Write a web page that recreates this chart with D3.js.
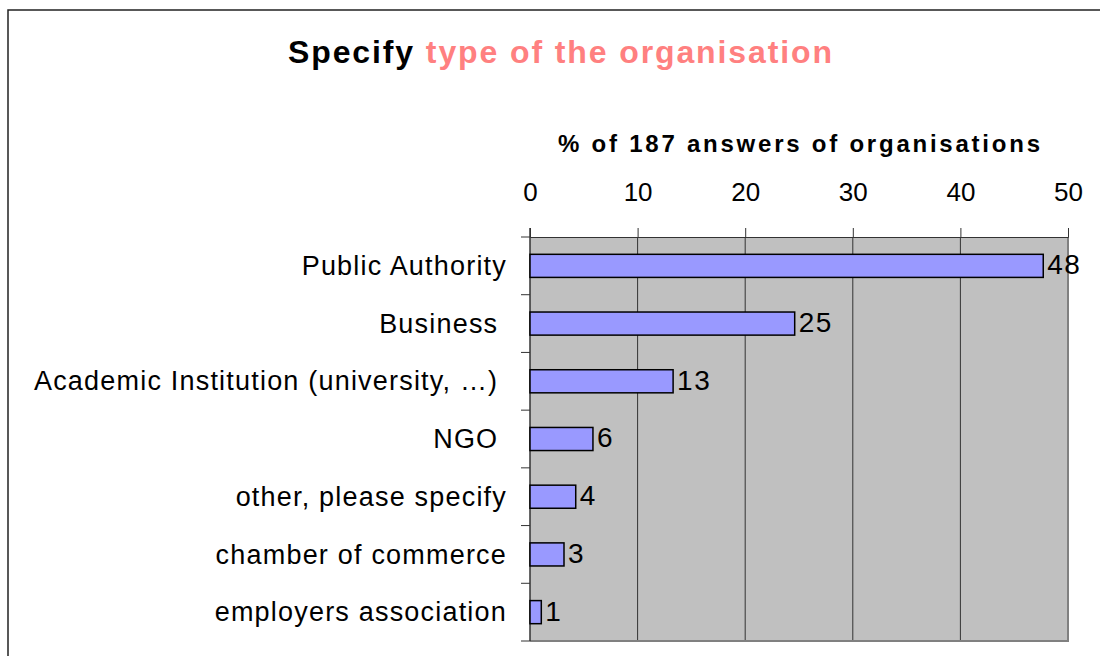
<!DOCTYPE html>
<html><head><meta charset="utf-8">
<script src="https://cdn.jsdelivr.net/npm/d3@7/dist/d3.min.js"></script>
<style>body{margin:0;background:#fff}svg{display:block;font-family:"Liberation Sans",Arial,sans-serif}</style>
</head><body>
<script>
const categories = ["Public Authority","Business ","Academic Institution (university, …) ","NGO ","other, please specify","chamber of commerce","employers association"];
const values = [47.7, 24.6, 13.3, 5.85, 4.25, 3.16, 1.05];
const tickValues = [0,10,20,30,40,50];

const W=1100,H=656;
const svg=d3.select("body").append("svg").attr("width",W).attr("height",H);
svg.append("rect").attr("x",8).attr("y",10).attr("width",1200).attr("height",800).attr("fill","#fff").attr("stroke","#222").attr("stroke-width",1.5);

const L=530,R=1068,T=237,B=641;
const x=d3.scaleLinear().domain([0,50]).range([L,R]);
const y=d3.scaleBand().domain(categories).range([T,B]).paddingInner(0.6).paddingOuter(0.3);

// title
const title=svg.append("text").attr("x",560).attr("y",63).attr("text-anchor","middle").attr("font-size",32).attr("font-weight","bold")
 .attr("textLength",544).attr("lengthAdjust","spacing");
title.append("tspan").attr("fill","#000").text("Specify ");
title.append("tspan").attr("fill","#ff8080").text("type of the organisation");

svg.append("text").attr("x",(L+R)/2).attr("y",152).attr("text-anchor","middle").attr("font-size",24).attr("font-weight","bold")
 .attr("textLength",482).attr("lengthAdjust","spacing").text("% of 187 answers of organisations");

// plot bg
svg.append("rect").attr("x",L).attr("y",T).attr("width",R-L).attr("height",B-T).attr("fill","#c0c0c0");
// gridlines
svg.append("g").selectAll("line").data(tickValues.slice(1,-1)).join("line")
 .attr("x1",d=>x(d)).attr("x2",d=>x(d)).attr("y1",T).attr("y2",B).attr("stroke","#333").attr("stroke-width",1);
// border right/bottom gray
svg.append("path").attr("d",`M${R},${T}V${B}H${L}`).attr("fill","none").attr("stroke","#808080").attr("stroke-width",2);

// top axis
const xa=svg.append("g").attr("transform",`translate(0,${T})`).call(d3.axisTop(x).tickValues(tickValues).tickSize(9).tickPadding(27).tickFormat(d3.format("d")));
xa.select(".domain").attr("stroke","#333");
xa.selectAll(".tick line").attr("stroke","#333");
xa.selectAll("text").attr("font-size",26).attr("font-family","Liberation Sans, Arial, sans-serif").attr("fill","#000").attr("dy",0);

// left axis with boundary ticks
const bounds=d3.range(categories.length+1).map(i=>T+i*(B-T)/categories.length);
svg.append("g").selectAll("line").data(bounds).join("line")
 .attr("x1",L-9).attr("x2",L).attr("y1",d=>d).attr("y2",d=>d).attr("stroke","#333");
svg.append("line").attr("x1",L).attr("x2",L).attr("y1",T-9).attr("y2",B).attr("stroke","#333").attr("stroke-width",1.5);

svg.append("g").selectAll("text").data(categories).join("text")
 .attr("x",L-23).attr("y",d=>y(d)+y.bandwidth()/2).attr("dy","0.34em").attr("text-anchor","end")
 .attr("font-size",27).style("letter-spacing","1.2px").style("white-space","pre").attr("xml:space","preserve").text(d=>d);

// bars
svg.append("g").selectAll("rect").data(values).join("rect")
 .attr("x",x(0)).attr("y",(d,i)=>y(categories[i])).attr("width",d=>x(d)-x(0)).attr("height",y.bandwidth())
 .attr("fill","#9999ff").attr("stroke","#000").attr("stroke-width",1.5);

svg.append("g").selectAll("text").data(values).join("text")
 .attr("x",d=>x(d)+4).attr("y",(d,i)=>y(categories[i])+y.bandwidth()/2).attr("dy","0.3em")
 .attr("font-size",28).style("letter-spacing","1.5px").text(d=>d3.format(".0f")(d));
</script>
</body></html>
